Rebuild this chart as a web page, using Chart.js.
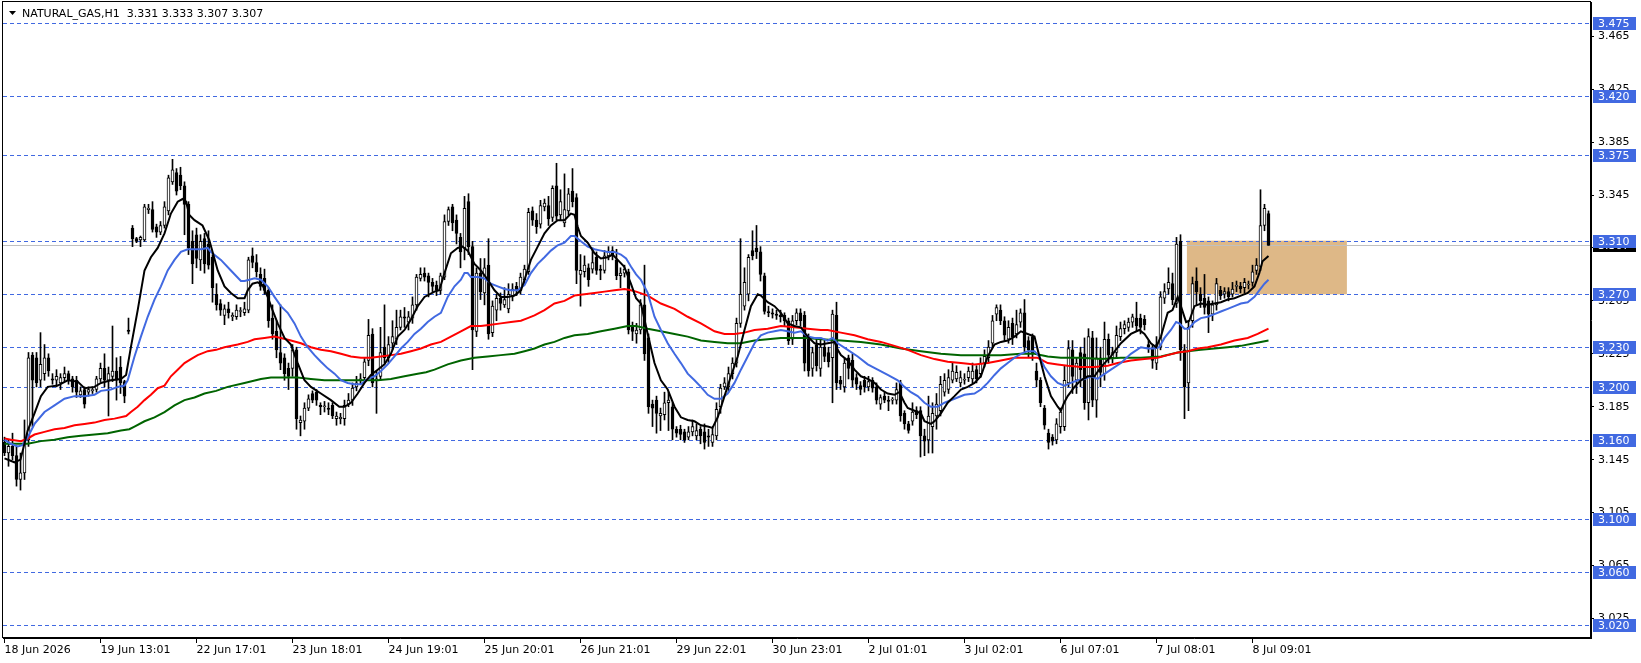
<!DOCTYPE html>
<html>
<head>
<meta charset="utf-8">
<title>NATURAL_GAS,H1</title>
<script src="https://cdn.jsdelivr.net/npm/chart.js@4.4.1/dist/chart.umd.min.js"></script>
<style>
  html, body { margin: 0; padding: 0; background: #fff; }
  canvas { display: block; }
</style>
</head>
<body>
<canvas id="chart" width="1641" height="663"></canvas>
<script>
// hourly candles, bar index 0 = 18 Jun 2026
const opens = [
  3.158,3.150,3.155,3.148,3.130,3.135,3.160,3.224,3.222,3.205,
  3.210,3.222,3.206,3.205,3.203,3.207,3.210,3.206,3.205,3.194,
  3.198,3.196,3.197,3.198,3.206,3.214,3.205,3.208,3.212,3.215,
  3.204,3.243,3.320,3.312,3.311,3.311,3.334,3.334,3.321,3.317,
  3.322,3.333,3.355,3.362,3.360,3.352,3.338,3.310,3.315,3.296,
  3.312,3.308,3.298,3.270,3.263,3.254,3.259,3.253,3.253,3.257,
  3.256,3.258,3.299,3.294,3.285,3.282,3.273,3.252,3.242,3.226,
  3.222,3.214,3.214,3.228,3.173,3.174,3.184,3.195,3.196,3.186,
  3.185,3.184,3.186,3.176,3.176,3.176,3.187,3.190,3.200,3.205,
  3.207,3.220,3.240,3.205,3.208,3.230,3.222,3.233,3.236,3.245,
  3.253,3.249,3.252,3.262,3.282,3.286,3.284,3.279,3.277,3.273,
  3.283,3.325,3.336,3.326,3.313,3.305,3.340,3.306,3.242,3.286,
  3.271,3.292,3.241,3.258,3.267,3.262,3.259,3.268,3.276,3.273,
  3.281,3.287,3.333,3.326,3.323,3.336,3.337,3.328,3.352,3.330,
  3.324,3.333,3.348,3.343,3.285,3.287,3.290,3.289,3.298,3.289,
  3.288,3.299,3.303,3.296,3.284,3.286,3.287,3.245,3.240,3.243,
  3.262,3.237,3.187,3.190,3.178,3.179,3.188,3.185,3.168,3.168,
  3.166,3.162,3.166,3.163,3.168,3.166,3.163,3.158,3.163,3.185,
  3.200,3.200,3.210,3.218,3.248,3.261,3.270,3.303,3.305,3.302,
  3.284,3.257,3.256,3.255,3.254,3.254,3.250,3.236,3.250,3.256,
  3.254,3.236,3.214,3.232,3.214,3.230,3.226,3.222,3.254,3.205,
  3.200,3.222,3.220,3.207,3.201,3.205,3.200,3.205,3.200,3.187,
  3.193,3.190,3.190,3.190,3.203,3.180,3.172,3.174,3.182,3.182,
  3.163,3.160,3.170,3.178,3.182,3.196,3.198,3.205,3.206,3.203,
  3.205,3.207,3.206,3.213,3.210,3.218,3.222,3.233,3.255,3.258,
  3.250,3.236,3.248,3.240,3.249,3.256,3.235,3.238,3.212,3.205,
  3.184,3.165,3.162,3.160,3.170,3.170,3.203,3.228,3.205,3.226,
  3.225,3.188,3.237,3.190,3.222,3.210,3.236,3.222,3.226,3.238,
  3.244,3.245,3.249,3.252,3.252,3.251,3.232,3.229,3.218,3.230,
  3.267,3.274,3.278,3.263,3.310,3.228,3.203,3.250,3.280,3.270,
  3.267,3.265,3.255,3.262,3.273,3.270,3.272,3.270,3.276,3.276,
  3.275,3.277,3.279,3.288,3.291,3.322,3.331
];
const highs = [
  3.162,3.160,3.165,3.155,3.150,3.175,3.226,3.226,3.226,3.241,
  3.232,3.225,3.210,3.213,3.210,3.215,3.212,3.208,3.208,3.200,
  3.200,3.200,3.200,3.208,3.218,3.225,3.215,3.246,3.222,3.223,
  3.205,3.252,3.322,3.313,3.314,3.338,3.338,3.340,3.323,3.325,
  3.340,3.360,3.372,3.365,3.366,3.355,3.340,3.318,3.320,3.315,
  3.316,3.318,3.300,3.278,3.266,3.262,3.264,3.256,3.262,3.260,
  3.264,3.298,3.305,3.300,3.290,3.289,3.275,3.262,3.250,3.262,
  3.225,3.218,3.232,3.230,3.178,3.188,3.194,3.197,3.198,3.188,
  3.189,3.188,3.188,3.181,3.180,3.190,3.195,3.203,3.208,3.210,
  3.222,3.251,3.244,3.212,3.245,3.262,3.238,3.250,3.258,3.258,
  3.260,3.257,3.268,3.285,3.290,3.290,3.286,3.282,3.280,3.286,
  3.330,3.336,3.338,3.330,3.316,3.344,3.346,3.310,3.290,3.297,
  3.297,3.312,3.265,3.270,3.271,3.275,3.278,3.278,3.279,3.286,
  3.292,3.335,3.336,3.331,3.341,3.342,3.344,3.352,3.369,3.349,
  3.361,3.350,3.365,3.346,3.300,3.299,3.293,3.305,3.302,3.292,
  3.303,3.306,3.306,3.304,3.290,3.292,3.289,3.249,3.248,3.266,
  3.292,3.240,3.190,3.193,3.184,3.196,3.196,3.188,3.170,3.171,
  3.168,3.170,3.175,3.172,3.170,3.172,3.168,3.169,3.188,3.202,
  3.207,3.215,3.222,3.252,3.312,3.290,3.300,3.318,3.322,3.306,
  3.286,3.261,3.259,3.258,3.258,3.256,3.252,3.254,3.259,3.259,
  3.257,3.240,3.230,3.236,3.237,3.236,3.230,3.258,3.264,3.208,
  3.222,3.224,3.225,3.210,3.204,3.208,3.208,3.207,3.203,3.194,
  3.196,3.193,3.192,3.203,3.205,3.182,3.174,3.188,3.185,3.185,
  3.168,3.193,3.188,3.195,3.208,3.210,3.213,3.218,3.216,3.212,
  3.210,3.215,3.218,3.216,3.222,3.228,3.235,3.254,3.262,3.262,
  3.253,3.250,3.252,3.258,3.259,3.266,3.238,3.240,3.218,3.207,
  3.186,3.168,3.164,3.176,3.184,3.216,3.235,3.235,3.222,3.230,
  3.237,3.244,3.242,3.237,3.230,3.249,3.240,3.230,3.246,3.249,
  3.250,3.252,3.255,3.264,3.255,3.254,3.235,3.232,3.238,3.272,
  3.278,3.290,3.286,3.313,3.315,3.232,3.250,3.283,3.290,3.275,
  3.285,3.268,3.265,3.282,3.276,3.275,3.275,3.279,3.280,3.279,
  3.282,3.280,3.292,3.297,3.349,3.338,3.333
];
const lows = [
  3.148,3.140,3.145,3.125,3.122,3.130,3.155,3.170,3.200,3.200,
  3.205,3.208,3.202,3.200,3.198,3.204,3.202,3.196,3.192,3.192,
  3.184,3.193,3.195,3.196,3.204,3.200,3.178,3.204,3.190,3.195,
  3.188,3.240,3.306,3.309,3.306,3.310,3.331,3.317,3.313,3.315,
  3.320,3.330,3.353,3.345,3.349,3.315,3.300,3.278,3.290,3.288,
  3.286,3.289,3.264,3.258,3.254,3.247,3.252,3.250,3.251,3.253,
  3.254,3.256,3.290,3.283,3.273,3.270,3.245,3.236,3.222,3.213,
  3.205,3.198,3.208,3.168,3.163,3.168,3.182,3.188,3.186,3.179,
  3.181,3.179,3.176,3.171,3.172,3.171,3.185,3.186,3.197,3.202,
  3.204,3.216,3.200,3.180,3.205,3.218,3.218,3.228,3.232,3.243,
  3.245,3.243,3.248,3.258,3.280,3.280,3.268,3.272,3.269,3.270,
  3.281,3.322,3.318,3.308,3.290,3.296,3.300,3.213,3.238,3.266,
  3.262,3.236,3.238,3.250,3.258,3.260,3.256,3.265,3.269,3.270,
  3.278,3.285,3.322,3.316,3.320,3.333,3.322,3.325,3.326,3.326,
  3.321,3.330,3.336,3.278,3.261,3.283,3.276,3.286,3.285,3.281,
  3.286,3.296,3.296,3.281,3.275,3.283,3.240,3.235,3.233,3.240,
  3.220,3.180,3.170,3.165,3.167,3.175,3.167,3.160,3.162,3.160,
  3.158,3.160,3.163,3.160,3.157,3.153,3.155,3.155,3.160,3.180,
  3.198,3.196,3.206,3.215,3.245,3.258,3.265,3.296,3.297,3.280,
  3.255,3.253,3.252,3.251,3.249,3.246,3.232,3.232,3.247,3.246,
  3.212,3.208,3.208,3.212,3.208,3.219,3.215,3.188,3.198,3.198,
  3.196,3.206,3.200,3.198,3.194,3.196,3.197,3.196,3.187,3.183,
  3.188,3.182,3.187,3.187,3.174,3.168,3.165,3.171,3.176,3.147,
  3.148,3.150,3.150,3.168,3.178,3.193,3.195,3.203,3.204,3.200,
  3.202,3.204,3.203,3.203,3.207,3.215,3.218,3.230,3.250,3.247,
  3.235,3.233,3.232,3.237,3.245,3.226,3.222,3.220,3.200,3.185,
  3.168,3.153,3.156,3.157,3.165,3.167,3.200,3.195,3.195,3.200,
  3.183,3.175,3.185,3.177,3.200,3.205,3.218,3.218,3.222,3.235,
  3.240,3.242,3.245,3.242,3.240,3.243,3.226,3.214,3.213,3.228,
  3.263,3.270,3.262,3.260,3.220,3.176,3.182,3.245,3.262,3.260,
  3.255,3.241,3.250,3.258,3.266,3.267,3.265,3.268,3.272,3.271,
  3.271,3.274,3.276,3.285,3.288,3.318,3.307
];
const closes = [
  3.150,3.155,3.148,3.130,3.135,3.160,3.222,3.205,3.203,3.217,
  3.222,3.212,3.205,3.208,3.207,3.210,3.205,3.200,3.196,3.197,
  3.187,3.198,3.198,3.206,3.214,3.205,3.210,3.212,3.205,3.203,
  3.193,3.242,3.312,3.310,3.313,3.336,3.335,3.319,3.317,3.322,
  3.336,3.358,3.364,3.348,3.352,3.338,3.305,3.293,3.297,3.310,
  3.293,3.292,3.275,3.262,3.258,3.259,3.256,3.254,3.258,3.257,
  3.259,3.296,3.294,3.287,3.276,3.273,3.250,3.240,3.228,3.218,
  3.210,3.208,3.228,3.176,3.175,3.184,3.191,3.190,3.190,3.185,
  3.185,3.183,3.178,3.178,3.177,3.186,3.190,3.199,3.203,3.206,
  3.219,3.239,3.203,3.206,3.226,3.222,3.232,3.238,3.245,3.253,
  3.252,3.253,3.262,3.283,3.285,3.283,3.279,3.276,3.273,3.284,
  3.325,3.334,3.324,3.316,3.302,3.335,3.306,3.243,3.286,3.272,
  3.290,3.240,3.261,3.267,3.263,3.266,3.270,3.274,3.273,3.283,
  3.289,3.332,3.326,3.321,3.337,3.339,3.327,3.350,3.329,3.340,
  3.334,3.346,3.340,3.288,3.288,3.292,3.281,3.294,3.288,3.288,
  3.299,3.302,3.299,3.284,3.286,3.289,3.243,3.242,3.243,3.262,
  3.225,3.185,3.184,3.180,3.180,3.188,3.190,3.168,3.165,3.164,
  3.160,3.166,3.170,3.167,3.163,3.158,3.162,3.164,3.183,3.199,
  3.203,3.210,3.218,3.248,3.270,3.279,3.298,3.299,3.302,3.285,
  3.257,3.256,3.255,3.254,3.253,3.250,3.235,3.250,3.256,3.250,
  3.218,3.212,3.226,3.216,3.230,3.223,3.219,3.255,3.203,3.202,
  3.218,3.214,3.205,3.202,3.198,3.200,3.204,3.199,3.190,3.192,
  3.190,3.189,3.190,3.198,3.178,3.172,3.167,3.181,3.179,3.163,
  3.159,3.178,3.180,3.187,3.202,3.205,3.207,3.212,3.211,3.207,
  3.205,3.212,3.212,3.206,3.218,3.223,3.230,3.250,3.260,3.250,
  3.239,3.245,3.238,3.247,3.256,3.230,3.228,3.225,3.205,3.188,
  3.171,3.158,3.159,3.172,3.181,3.205,3.229,3.208,3.218,3.213,
  3.188,3.238,3.190,3.222,3.211,3.236,3.224,3.226,3.239,3.244,
  3.247,3.249,3.253,3.246,3.245,3.247,3.230,3.220,3.232,3.268,
  3.272,3.279,3.266,3.308,3.228,3.200,3.245,3.278,3.272,3.265,
  3.260,3.255,3.262,3.278,3.269,3.272,3.268,3.274,3.276,3.274,
  3.279,3.277,3.287,3.292,3.322,3.335,3.307
];

// moving averages as [bar, price]
const maBlack = [
  [0,3.146],[2.5,3.143],[4,3.145],[5.8,3.167],[7.5,3.180],[9.1,3.193],[10.8,3.200],[13.3,3.201],
  [15.8,3.205],[18.3,3.204],[20,3.199],[22.5,3.200],[24.1,3.203],[26.6,3.205],[29.1,3.206],[30.4,3.209],
  [31.6,3.230],[33.3,3.258],[35,3.288],[36.6,3.298],[38.3,3.305],[40,3.316],[41.6,3.331],[43.3,3.340],
  [44.5,3.342],[45.4,3.340],[46.2,3.330],[47.5,3.326],[49.5,3.322],[51.2,3.311],[53.3,3.288],[55,3.276],
  [56.6,3.271],[58.3,3.267],[60,3.267],[60.8,3.273],[62,3.278],[63.3,3.279],[64.5,3.277],[65.8,3.268],
  [67,3.258],[68.3,3.248],[70,3.237],[71.6,3.232],[73.3,3.218],[75,3.205],[76.6,3.200],[79.1,3.195],
  [81.6,3.190],[83.7,3.185],[85,3.185],[86.6,3.188],[88.3,3.195],[90,3.203],[91.6,3.209],[93.3,3.213],
  [95,3.217],[96.6,3.225],[98.3,3.238],[100,3.243],[101.6,3.251],[103.3,3.261],[105,3.268],[107.5,3.272],
  [108.7,3.273],[110,3.286],[111.6,3.301],[113.3,3.305],[114.5,3.306],[115.8,3.303],[117.5,3.293],[119.1,3.288],
  [120.8,3.281],[122.5,3.273],[124.1,3.268],[125.8,3.268],[127.5,3.269],[129.1,3.273],[130,3.281],[131.6,3.296],
  [133.3,3.306],[135,3.316],[136.6,3.322],[138.3,3.326],[140,3.326],[141.6,3.331],[142.5,3.330],[143.3,3.321],
  [144.1,3.314],[145.8,3.309],[147.5,3.301],[149.1,3.297],[150.8,3.298],[152,3.300],[153.3,3.296],[154.9,3.291],
  [156.6,3.278],[157.9,3.267],[159.1,3.263],[160.8,3.240],[162.5,3.218],[164.1,3.205],[165.8,3.198],[167.5,3.185],
  [169.1,3.177],[170.8,3.175],[172.5,3.174],[174.1,3.171],[175.8,3.170],[177,3.169],[178.3,3.177],[180,3.193],
  [181.6,3.208],[183.3,3.223],[185,3.243],[186.6,3.261],[188.3,3.270],[189.1,3.269],[190.8,3.264],[192.5,3.261],
  [194.1,3.256],[195.8,3.248],[197.5,3.246],[199.1,3.245],[200.8,3.238],[202.5,3.233],[204.1,3.232],[205.8,3.233],
  [207.5,3.234],[208.3,3.228],[209.1,3.224],[210.8,3.220],[212.5,3.213],[214.1,3.208],[215.8,3.206],[217.5,3.203],
  [219.1,3.198],[220.8,3.195],[222.5,3.194],[223.7,3.196],[225,3.188],[225.8,3.184],[227.5,3.182],[229.1,3.180],
  [230,3.174],[231.6,3.172],[232.5,3.174],[234.1,3.180],[235.8,3.188],[237.5,3.193],[239.1,3.198],[240.8,3.200],
  [242.5,3.203],[244.1,3.208],[245.8,3.223],[247.5,3.232],[249.1,3.234],[250.8,3.235],[252.5,3.238],[254.1,3.242],
  [255.8,3.240],[257.5,3.238],[258.3,3.228],[260,3.208],[261.6,3.193],[263.3,3.185],[264.1,3.182],[264.9,3.188],
  [265.8,3.193],[267.5,3.200],[269.1,3.205],[270.8,3.208],[272.5,3.208],[274.1,3.215],[276.6,3.223],[279.1,3.233],
  [281.6,3.240],[283.7,3.243],[285,3.240],[286.6,3.233],[287.9,3.230],[289.1,3.238],[290.8,3.256],[292,3.258],
  [293.3,3.268],[294.1,3.261],[295.4,3.249],[296.2,3.250],[297.5,3.261],[299.1,3.263],[300.8,3.262],[302.5,3.263],
  [304.1,3.264],[305.8,3.266],[307.5,3.267],[309.1,3.269],[310.8,3.271],[312.5,3.276],[313.7,3.286],[314.5,3.295],
  [316,3.299]
];
const maBlue = [
  [0,3.160],[1.6,3.157],[3.3,3.155],[4.5,3.156],[5.8,3.162],[7.5,3.172],[10,3.181],[12.5,3.186],
  [15,3.191],[17.5,3.193],[20,3.193],[22.5,3.194],[24.1,3.197],[26.6,3.198],[28.3,3.200],[30,3.201],
  [30.8,3.205],[32.5,3.223],[34.1,3.238],[35.8,3.253],[37.5,3.266],[39.1,3.276],[40.8,3.288],[42.5,3.296],
  [44.1,3.302],[45.8,3.304],[49.1,3.304],[50.8,3.305],[51.6,3.302],[54.1,3.296],[56.6,3.288],[59.1,3.280],
  [60,3.280],[61.2,3.281],[62.5,3.282],[64.1,3.281],[65.8,3.276],[67.5,3.268],[69.1,3.261],[70.8,3.256],
  [72.5,3.248],[74.1,3.238],[75.8,3.230],[77.5,3.224],[79.1,3.219],[80.8,3.214],[82.5,3.210],[84.1,3.205],
  [85.8,3.203],[87.5,3.202],[89.1,3.202],[90.8,3.206],[92.5,3.208],[94.1,3.212],[95.8,3.217],[97.5,3.223],
  [99.1,3.229],[100.8,3.234],[102.5,3.240],[104.1,3.244],[105.8,3.249],[107.5,3.253],[109.1,3.256],[110.8,3.268],
  [112.5,3.276],[114.1,3.281],[115,3.286],[115.8,3.286],[116.6,3.283],[118.3,3.283],[120,3.282],[121.6,3.278],
  [123.3,3.276],[125,3.274],[126.6,3.273],[128.3,3.273],[130,3.277],[131.6,3.286],[133.3,3.293],[135,3.298],
  [136.6,3.303],[138.3,3.307],[140,3.309],[141.6,3.314],[142.5,3.314],[144.1,3.310],[145.8,3.306],[147.5,3.304],
  [149.1,3.303],[150.8,3.302],[152.5,3.302],[154.1,3.300],[155.4,3.297],[156.6,3.291],[157.9,3.285],[159.1,3.281],
  [160.8,3.271],[162.5,3.253],[164.1,3.243],[165.8,3.233],[167.5,3.225],[169.1,3.218],[170.8,3.210],[172.5,3.205],
  [174.1,3.200],[175.8,3.194],[177.5,3.191],[179.1,3.191],[180.8,3.195],[182.5,3.203],[184.1,3.213],[185.8,3.223],
  [187.5,3.233],[189.1,3.239],[190.8,3.241],[192.5,3.242],[194.1,3.243],[195.8,3.242],[197.5,3.241],[199.1,3.242],
  [200.8,3.238],[202.5,3.237],[204.1,3.237],[205.8,3.235],[207,3.237],[208.3,3.233],[210.8,3.228],[213.3,3.223],
  [215.8,3.217],[218.3,3.213],[220.8,3.209],[223.3,3.205],[225,3.200],[226.6,3.196],[228.3,3.193],[230,3.188],
  [231.6,3.185],[233.3,3.185],[235,3.188],[237.5,3.191],[240,3.194],[242.5,3.195],[244.1,3.198],[245.8,3.203],
  [247.5,3.209],[249.1,3.214],[250.8,3.218],[252.5,3.222],[254.1,3.225],[255.8,3.227],[257.5,3.227],[258.7,3.223],
  [260,3.215],[261.6,3.208],[263.3,3.203],[265,3.201],[266.6,3.203],[268.3,3.205],[270,3.206],[271.6,3.208],
  [273.3,3.206],[274.1,3.208],[276.6,3.213],[279.1,3.218],[281.6,3.225],[284.1,3.230],[285.8,3.229],[287.5,3.229],
  [288.7,3.230],[290,3.237],[291.6,3.243],[292.9,3.249],[293.7,3.248],[295,3.244],[296,3.244],[297.5,3.249],
  [299.1,3.252],[300.8,3.253],[302.5,3.255],[304.1,3.257],[305.8,3.259],[307.5,3.261],[309.1,3.263],[310.8,3.264],
  [312.5,3.268],[313.7,3.273],[315,3.278],[316,3.281]
];
const maRed = [
  [0,3.161],[1.6,3.160],[4.1,3.159],[5.8,3.161],[7.5,3.164],[10,3.166],[12.5,3.168],[15,3.169],
  [17.5,3.171],[20,3.172],[22.5,3.173],[25,3.175],[27.5,3.176],[30.4,3.178],[31.6,3.181],[33.3,3.185],
  [35,3.190],[36.6,3.194],[38.3,3.199],[40,3.201],[41.6,3.208],[43.3,3.213],[45,3.218],[46.6,3.221],
  [48.3,3.224],[50.8,3.227],[52.9,3.228],[55,3.230],[58.3,3.232],[60.8,3.234],[62.5,3.236],[65,3.237],
  [67.5,3.238],[69.1,3.237],[71.6,3.235],[74.1,3.233],[76.6,3.230],[79.1,3.228],[81.6,3.227],[84.1,3.225],
  [86.6,3.223],[89.1,3.222],[91.6,3.222],[94.1,3.223],[96.6,3.224],[99.1,3.225],[101.6,3.227],[104.1,3.229],
  [106.6,3.232],[109.1,3.234],[111.6,3.238],[114.1,3.242],[116.6,3.246],[119.1,3.246],[121.6,3.247],[124.1,3.248],
  [126.6,3.249],[129.1,3.250],[130.8,3.252],[132.5,3.254],[135,3.258],[137.5,3.263],[140,3.265],[142.5,3.269],
  [145,3.270],[147.5,3.271],[150,3.272],[152.5,3.273],[155,3.274],[156.6,3.273],[157.9,3.272],[160.8,3.269],
  [164.1,3.263],[167.5,3.259],[170.8,3.253],[174.1,3.248],[177.5,3.242],[180,3.240],[182.5,3.240],[185,3.241],
  [187.5,3.243],[190.8,3.244],[194.1,3.246],[197.5,3.245],[200.8,3.244],[204.1,3.243],[205.8,3.243],[209.1,3.241],
  [212.5,3.239],[215.8,3.236],[219.1,3.234],[222.5,3.231],[225.8,3.228],[229.1,3.224],[232.5,3.221],[235.8,3.219],
  [239.1,3.218],[242.5,3.217],[245.8,3.218],[249.1,3.220],[252.5,3.222],[255.8,3.222],[258.3,3.222],[260.8,3.218],
  [263.3,3.217],[265.8,3.216],[269.1,3.215],[272.5,3.215],[275.8,3.216],[278.3,3.218],[281.6,3.220],[285,3.221],
  [288.3,3.222],[290.8,3.224],[293.3,3.226],[295.8,3.227],[298.3,3.229],[300.8,3.230],[304.1,3.232],[307.5,3.235],
  [310.8,3.237],[313.3,3.240],[316,3.244]
];
const maGreen = [
  [0,3.157],[2.5,3.157],[5.8,3.157],[9.1,3.159],[12.5,3.160],[15.8,3.162],[19.1,3.163],[22.5,3.164],
  [25.8,3.165],[29.1,3.167],[31.2,3.168],[32.5,3.170],[35,3.174],[37.5,3.177],[40,3.181],[42.5,3.186],
  [45,3.190],[47.5,3.192],[50,3.195],[52.9,3.197],[55.8,3.200],[60,3.203],[64.1,3.206],[66.6,3.207],
  [70,3.207],[73.3,3.207],[76.6,3.206],[80,3.205],[83.3,3.205],[86.6,3.205],[90,3.205],[93.3,3.205],
  [96.6,3.206],[100,3.208],[103.3,3.210],[105.4,3.211],[107.5,3.213],[110.8,3.217],[114.1,3.220],[117.5,3.222],
  [120.8,3.223],[124.1,3.224],[127.5,3.225],[130,3.227],[132.5,3.229],[135,3.232],[137.5,3.234],[140,3.237],
  [142.5,3.239],[145.8,3.240],[149.1,3.242],[152.5,3.244],[155.8,3.246],[157.9,3.246],[160.8,3.244],[164.1,3.242],
  [167.5,3.240],[170.8,3.238],[174.1,3.235],[177.5,3.234],[180.8,3.233],[184.1,3.233],[187.5,3.235],[190.8,3.236],
  [194.1,3.237],[197.5,3.237],[200.8,3.237],[204.1,3.236],[209.1,3.235],[214.1,3.234],[219.1,3.232],[224.1,3.229],
  [229.1,3.227],[234.1,3.225],[239.1,3.224],[244.1,3.224],[249.1,3.224],[254.1,3.225],[257.5,3.225],[260.8,3.223],
  [264.1,3.222],[269.1,3.222],[274.1,3.221],[279.1,3.222],[284.1,3.222],[289.1,3.223],[293.3,3.226],[295.8,3.227],
  [299.1,3.228],[302.5,3.229],[305.8,3.230],[309.1,3.231],[312.5,3.233],[316,3.235]
];

const levels = [3.475, 3.420, 3.375, 3.310, 3.270, 3.230, 3.200, 3.160, 3.100, 3.060, 3.020];
const yTicks = [3.025, 3.065, 3.105, 3.145, 3.185, 3.225, 3.265, 3.305, 3.345, 3.385, 3.425, 3.465];
const timeIdx = [0, 24, 48, 72, 96, 120, 144, 168, 192, 216, 240, 264, 288, 312];
const timeLabels = ['18 Jun 2026', '19 Jun 13:01', '22 Jun 17:01', '23 Jun 18:01', '24 Jun 19:01',
  '25 Jun 20:01', '26 Jun 21:01', '29 Jun 22:01', '30 Jun 23:01', '2 Jul 01:01', '3 Jul 02:01',
  '6 Jul 07:01', '7 Jul 08:01', '8 Jul 09:01'];
const bidPrice = 3.307;
const zoneFrom = 295.6, zoneTo = 335.6, zoneTop = 3.3105, zoneBottom = 3.270;
const title = 'NATURAL_GAS,H1  3.331 3.333 3.307 3.307';

const FONT = '11px "DejaVu Sans"';

function toPoints(pairs) {
  return pairs.map(p => ({x: p[0], y: p[1]}));
}

function priceTag(ctx, area, y, value, bg) {
  const py = Math.round(y.getPixelForValue(value));
  ctx.fillStyle = bg;
  ctx.fillRect(area.right + 2, py - 6, 43, 13);
  ctx.fillStyle = '#ffffff';
  ctx.fillText(value.toFixed(3), area.right + 7, py + 1);
}

const painter = {
  id: 'painter',
  beforeDatasetsDraw(chart) {
    const {ctx, chartArea: a, scales: {x, y}} = chart;
    ctx.save();
    const zx1 = x.getPixelForValue(zoneFrom), zx2 = x.getPixelForValue(zoneTo);
    const zy1 = y.getPixelForValue(zoneTop), zy2 = y.getPixelForValue(zoneBottom);
    ctx.fillStyle = '#DEB887';
    ctx.fillRect(zx1, zy1, zx2 - zx1, zy2 - zy1);

    ctx.lineWidth = 1;
    ctx.strokeStyle = '#4169E1';
    ctx.setLineDash([4, 3]);
    levels.forEach(v => {
      const py = Math.round(y.getPixelForValue(v)) + 0.5;
      ctx.beginPath();
      ctx.moveTo(a.left, py);
      ctx.lineTo(a.right, py);
      ctx.stroke();
    });
    ctx.setLineDash([]);
    ctx.strokeStyle = '#C0C0C0';
    const by = Math.round(y.getPixelForValue(bidPrice)) + 0.5;
    ctx.beginPath();
    ctx.moveTo(a.left, by);
    ctx.lineTo(a.right, by);
    ctx.stroke();
    ctx.restore();
  },
  afterDraw(chart) {
    const {ctx, chartArea: a, scales: {y}} = chart;
    ctx.save();
    ctx.strokeStyle = '#000';
    ctx.lineWidth = 1;
    ctx.strokeRect(a.left - 0.5, a.top - 0.5, a.right - a.left, a.bottom - a.top);

    ctx.font = FONT;
    ctx.textBaseline = 'middle';
    ctx.textAlign = 'left';
    priceTag(ctx, a, y, bidPrice, '#000000');
    levels.forEach(v => priceTag(ctx, a, y, v, '#4169E1'));

    // header
    ctx.fillStyle = '#000';
    ctx.beginPath();
    ctx.moveTo(a.left + 6, a.top + 9);
    ctx.lineTo(a.left + 13, a.top + 9);
    ctx.lineTo(a.left + 9.5, a.top + 13);
    ctx.closePath();
    ctx.fill();
    ctx.fillText(title, a.left + 19, a.top + 12);
    ctx.restore();
  }
};

const bars = closes.map((c, i) => i);
const bodyColor = c => closes[c.dataIndex] >= opens[c.dataIndex] ? '#ffffff' : '#000000';

new Chart(document.getElementById('chart'), {
  type: 'bar',
  data: {
    datasets: [
      {type: 'line', label: 'MA fast', data: toPoints(maBlack), borderColor: '#000000', borderWidth: 2, pointRadius: 0, order: 0},
      {type: 'line', label: 'MA mid', data: toPoints(maBlue), borderColor: '#4169E1', borderWidth: 2, pointRadius: 0, order: 1},
      {type: 'line', label: 'MA slow', data: toPoints(maRed), borderColor: '#FF0000', borderWidth: 2, pointRadius: 0, order: 2},
      {type: 'line', label: 'MA long', data: toPoints(maGreen), borderColor: '#006400', borderWidth: 2, pointRadius: 0, order: 3},
      {
        label: 'body',
        data: bars.map(i => ({x: i, y: [opens[i], closes[i]]})),
        backgroundColor: bodyColor,
        borderColor: '#000000',
        borderWidth: 1,
        borderSkipped: false,
        barThickness: 3,
        minBarLength: 1,
        order: 4
      },
      {
        label: 'wick',
        data: bars.map(i => ({x: i, y: [lows[i], highs[i]]})),
        backgroundColor: '#000000',
        borderWidth: 0,
        barThickness: 1,
        order: 5
      }
    ]
  },
  options: {
    responsive: false,
    animation: false,
    devicePixelRatio: 1,
    events: [],
    grouped: false,
    layout: {padding: {left: 3, top: 2, right: 0, bottom: 0}},
    plugins: {legend: {display: false}, tooltip: {enabled: false}},
    scales: {
      x: {
        type: 'linear',
        position: 'bottom',
        min: -0.375,
        max: 396.625,
        offset: false,
        afterBuildTicks: s => { s.ticks = timeIdx.map(v => ({value: v})); },
        afterFit: s => { s.height = 25; s.paddingLeft = 0; s.paddingRight = 0; },
        grid: {drawOnChartArea: false, offset: false, tickLength: 5, tickColor: '#000'},
        border: {color: '#000'},
        ticks: {
          autoSkip: false, maxRotation: 0, align: 'start', padding: 1, color: '#000',
          font: {family: 'DejaVu Sans', size: 11},
          callback: (v, k) => timeLabels[k]
        }
      },
      y: {
        type: 'linear',
        position: 'right',
        min: 3.0102,
        max: 3.4909,
        beginAtZero: false,
        afterBuildTicks: s => { s.ticks = yTicks.map(v => ({value: v})); },
        afterFit: s => { s.width = 50; s.paddingTop = 0; s.paddingBottom = 0; },
        grid: {drawOnChartArea: false, tickLength: 3, tickColor: '#000'},
        border: {color: '#000'},
        ticks: {
          padding: 4, color: '#000',
          font: {family: 'DejaVu Sans', size: 11},
          callback: v => v.toFixed(3)
        }
      }
    }
  },
  plugins: [painter]
});
</script>
</body>
</html>
